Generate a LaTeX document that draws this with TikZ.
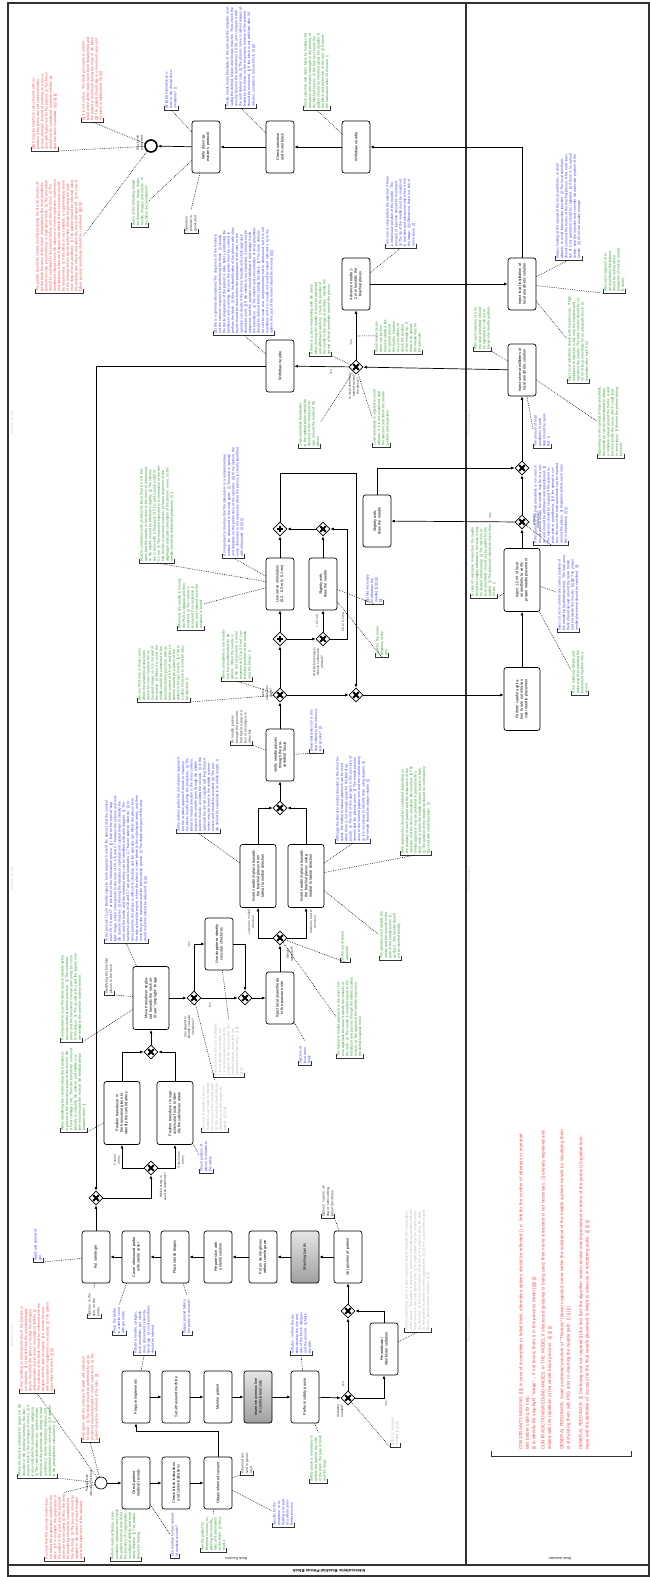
\documentclass[tikz,border=0pt]{standalone}
\usepackage{fontspec}
\setmainfont{Liberation Sans}
\usetikzlibrary{arrows.meta,shapes.geometric,calc}
\definecolor{annred}{RGB}{255,70,70}
\definecolor{annblue}{RGB}{60,60,255}
\definecolor{anngreen}{RGB}{40,160,40}
\definecolor{anngray}{RGB}{185,185,185}
\definecolor{annblack}{RGB}{60,60,60}
\definecolor{framegray}{RGB}{50,50,50}
\newcommand\nodefont{\fontsize{3.8}{4.5}\selectfont}
\newcommand\annfont{\fontsize{3.5}{4.3}\selectfont}
\newcommand\lblfont{\fontsize{3.3}{3.9}\selectfont}
\tikzset{
  task/.style={draw, line width=0.7pt, rounded corners=2.5pt, rotate=90, align=center, font=\nodefont, inner sep=1pt, minimum width=52, minimum height=28, text width=46, fill=white},
  bigtask/.style={task, minimum width=63, minimum height=36, text width=56},
  graytask/.style={task, top color=gray!20, bottom color=gray!75},
  gwx/.style={draw, shape=diamond, minimum size=14, inner sep=0, line width=0.7pt, fill=white,
    path picture={\draw[line width=1.8pt] ([shift={(-2.8pt,-2.8pt)}]path picture bounding box.center) -- ([shift={(2.8pt,2.8pt)}]path picture bounding box.center) ([shift={(-2.8pt,2.8pt)}]path picture bounding box.center) -- ([shift={(2.8pt,-2.8pt)}]path picture bounding box.center);}},
  gwp/.style={draw, shape=diamond, minimum size=14, inner sep=0, line width=0.7pt, fill=white,
    path picture={\draw[line width=1.1pt] ([xshift=-3.2pt]path picture bounding box.center) -- ([xshift=3.2pt]path picture bounding box.center) ([yshift=-3.2pt]path picture bounding box.center) -- ([yshift=3.2pt]path picture bounding box.center);}},
  startev/.style={draw, circle, minimum size=12, inner sep=0, line width=0.7pt, fill=white},
  endev/.style={draw, circle, minimum size=12, inner sep=0, line width=1.6pt, fill=white},
  flow/.style={-{Latex[length=3.6pt,width=3pt]}, line width=0.7pt},
  assoc/.style={line width=0.55pt, dash pattern=on 0.7pt off 1.1pt},
  ann/.style={rotate=90, anchor=north west, align=left, font=\annfont, inner sep=1pt},
  bracket/.style={line width=0.9pt, draw=framegray},
  gl/.style={rotate=90, font=\lblfont, align=center, inner sep=0.5pt, text=black!80},
  fl/.style={rotate=90, font=\lblfont, align=center, inner sep=0.5pt, text=black!70},
  frame/.style={line width=1.1pt, draw=framegray},
  faint/.style={rotate=90, font=\lblfont, text=gray!35}
}
\newcommand\ann[6]{%
  \node[ann, text=#5, text width=#4] (#1) at (#2,#3) {#6};
  \draw[bracket] ([yshift=4pt]#1.north west) -- (#1.north west) -- (#1.south west) -- ([yshift=4pt]#1.south west);
}
\begin{document}
\begin{tikzpicture}[x=1pt, y=-1pt]
\fill[white] (0,0) rectangle (650,1577);
\useasboundingbox (0,0) rectangle (650,1577);
% pool and lanes
\draw[frame] (8,3) rectangle (649,1576);
\draw[frame, line width=1.4pt] (8,1565) -- (649,1565);
\draw[frame] (466,3) -- (466,1565);
\node[rotate=180, font=\bfseries\fontsize{4.3}{5}\selectfont] (title) at (329,1571) {Interscalenic Brachial Plexus Block};
\node[rotate=180, font=\lblfont] (lane1) at (236,1559) {Block Executor};
\node[rotate=180, font=\lblfont] (lane2) at (560,1559) {Block Assistant};
\node[faint] (f11) at (12,422) {Block Executor};
\node[faint] (f12) at (12,878) {Block Executor};
\node[faint] (f13) at (12,1335) {Block Executor};
\node[faint] (f21) at (469,422) {Block Assistant};
\node[faint] (f22) at (469,878) {Block Assistant};
\node[faint] (f23) at (469,1330) {Block Assistant};

% events, tasks, gateways
\node[startev] (E0) at (101,1483) {};
\node[task] (T1) at (136,1483) {Check patient medical records};
\node[task] (T2) at (176,1483) {Check block indications and contraindications};
\node[task] (T3) at (218,1483) {Obtain informed consent};
\node[task] (T4) at (136,1397) {Prepare implements};
\node[task] (T5) at (176,1397) {Set ultrasound machine};
\node[task] (T6) at (218,1397) {Monitor patient};
\node[graytask] (T7) at (258,1397) {Insert intravenous line in contralateral side};
\node[task] (T8) at (305,1397) {Perform safety pause};
\node[gwx] (G1) at (348,1398) {};
\node[task] (T9) at (384,1349) {Premedicate /\\Administer sedation};
\node[gwx] (G2) at (348,1311) {};
\node[task] (T10) at (348,1257) {Set position of patient};
\node[graytask] (T11) at (305,1257) {Washing hands};
\node[task] (T12) at (263,1257) {Put on sterile gloves without sterile gown};
\node[task] (T13) at (218,1257) {Prepare skin with a sterile solution};
\node[task] (T14) at (175,1257) {Place sterile drapes};
\node[task] (T15) at (136,1257) {Cover ultrasound probe with sterile cover};
\node[task] (T16) at (96,1257) {Put sterile gel};
\node[gwx] (G3) at (96,1198) {};
\node[gwx] (G4) at (151,1168) {};
\node[bigtask] (T17) at (122,1113) {Position transducer in the transverse plane to identify the carotid artery};
\node[bigtask] (T18) at (175,1113) {Position transducer in supraclavicular fossa to identify the subclavian artery};
\node[gwx] (G5) at (151,1052) {};
\node[bigtask] (T19) at (151,998) {Move transducer cephalad towards the neck until see ``stop light'' image};
\node[gwx] (G6) at (194,998) {};
\node[task] (T20) at (219,944) {Use doppler to identify vascular structures};
\node[gwx] (G7) at (245,998) {};
\node[task] (T21) at (280,998) {Inject local anaesthesia in the puncture site};
\node[gwx] (G8) at (280,938) {};
\node[bigtask] (T22) at (258,876) {Insert needle in-plane towards the brachial plexus from lateral to medial direction};
\node[bigtask] (T23) at (306,876) {Insert needle in-plane towards the brachial plexus using medial to lateral direction};
\node[gwx] (G9) at (280,808) {};
\node[task] (T24) at (280,755) {Verify needle passes through the prevertebral fascia};
\node[gwx] (G10) at (280,695) {};
\node[gwx] (G11) at (356,695) {};
\node[gwp] (G12) at (280,639) {};
\node[gwx] (G13) at (323,639) {};
\node[task] (T25) at (280,584) {Use nerve stimulation (0.3 - 0.5 mA, 0.1 ms)};
\node[task] (T26) at (323,584) {Slightly withdraw the needle};
\node[gwp] (G14) at (280,529) {};
\node[gwx] (G15) at (323,529) {};
\node[task] (T27) at (377,521) {Slightly withdraw the needle};
\node[bigtask] (T28) at (522,699) {Perform careful aspiration to rule out intravascular needle placement};
\node[bigtask] (T29) at (522,580) {Inject 1-2 ml of local anaesthetic to verify proper needle placement};
\node[gwx] (G16) at (522,522) {};
\node[gwx] (G17) at (522,468) {};
\node[task] (T30) at (522,370) {Inject several milliliters of local anesthetic solution};
\node[gwx] (G18) at (356,367) {};
\node[task] (T31) at (280,366) {Withdraw needle};
\node[task] (T32) at (356,284) {Advance needle 1-2 mm towards the brachial plexus};
\node[task] (T33) at (522,284) {Inject local instillation of local anesthetic solution};
\node[task] (T34) at (356,147) {Withdraw needle};
\node[task] (T35) at (280,147) {Check sensitive and motor block};
\node[task] (T36) at (206,147) {Write down operation's protocol};
\node[endev] (E1) at (151,146) {};

% sequence flows
\coordinate (c3) at (218,1431);
\coordinate (c1) at (347,639);
\coordinate (c2) at (280,473);
\coordinate (f1) at (357,336);
\draw[flow] (E0) -- (T1);
\draw[flow] (T1) -- (T2);
\draw[flow] (T2) -- (T3);
\draw[flow] (T3) -- (c3) -| (T4);
\draw[flow] (T4) -- (T5);
\draw[flow] (T5) -- (T6);
\draw[flow] (T6) -- (T7);
\draw[flow] (T7) -- (T8);
\draw[flow] (T8) -- (G1);
\draw[flow] (G1) -- (G2);
\draw[flow] (G1) -| (T9);
\draw[flow] (T9) |- (G2);
\draw[flow] (G2) -- (T10);
\draw[flow] (T10) -- (T11);
\draw[flow] (T11) -- (T12);
\draw[flow] (T12) -- (T13);
\draw[flow] (T13) -- (T14);
\draw[flow] (T14) -- (T15);
\draw[flow] (T15) -- (T16);
\draw[flow] (T16) -- (G3);
\draw[flow] (G3) -| (G4);
\draw[flow] (G4) -| (T17);
\draw[flow] (G4) -| (T18);
\draw[flow] (T17) |- (G5);
\draw[flow] (T18) |- (G5);
\draw[flow] (G5) -- (T19);
\draw[flow] (T19) -- (G6);
\draw[flow] (G6) |- (T20);
\draw[flow] (G6) -- (G7);
\draw[flow] (T20) -| (G7);
\draw[flow] (G7) -- (T21);
\draw[flow] (T21) -- (G8);
\draw[flow] (G8) -| (T22);
\draw[flow] (G8) -| (T23);
\draw[flow] (T22) |- (G9);
\draw[flow] (T23) |- (G9);
\draw[flow] (G9) -- (T24);
\draw[flow] (T24) -- (G10);
\draw[flow] (G10) -- (G12);
\draw[flow] (G10) -- (G11);
\draw[flow] (G12) -- (T25);
\draw[flow] (G12) -- (G13);
\draw[flow] (G13) -- (T26);
\draw[flow] (G13) -- (c1) |- (G15);
\draw[flow] (T26) -- (G15);
\draw[flow] (G15) -- (G14);
\draw[flow] (T25) -- (G14);
\draw[flow] (G14) -- (c2) -| (G11);
\draw[flow] (G11) -- (G11 -| T28.north);
\draw[flow] (T28) -- (T29);
\draw[flow] (T29) -- (G16);
\draw[flow] (G16) -- (T27);
\draw[flow] (G16) -- (G17);
\draw[flow] (T27) |- (G17);
\draw[flow] (G17) -- (T30);
\draw[flow] (T30) -- (G18);
\draw[flow] (G18) -- (T31);
\draw[flow] (T31) -| (G3);
\draw[flow] (G18) -- (T32);
\draw[flow] (T32) -- (T33);
\draw[flow] (T33) |- (T34);
\draw[flow] (T34) -- (T35);
\draw[flow] (T35) -- (T36);
\draw[flow] (T36) -- (E1);

% gateway and flow labels
\node[gl] (lE0) at (89,1483) {Patient with\\indication for block};
\node[gl] (lE1) at (140,143) {Block well\\performed};
\node[gl] (lG1) at (340,1411) {Sedation\\needed?};
\node[fl] (n1) at (343,1384) {No};
\node[fl] (y1) at (386,1404) {Yes};
\node[gl] (lG4) at (163,1187) {Which artery is\\used as landmark?};
\node[fl] (a1) at (117,1160) {Carotid\\artery};
\node[fl] (a2) at (181,1160) {Subclavian\\artery};
\node[gl] (lG6) at (189,1027) {Use doppler to\\identify vascular\\structures?};
\node[fl] (y2) at (189,945) {Yes};
\node[fl] (n2) at (210,1005) {No};
\node[gl] (lG8) at (290,954) {Which\\approach?};
\node[fl] (d1) at (251,922) {Lateral to medial\\direction};
\node[fl] (d2) at (313,922) {Medial to lateral\\direction};
\node[gl] (lG10) at (267,693) {Nerve\\stimulator\\used?};
\node[gl] (lG13) at (318,662) {At which intensity is\\muscle contraction\\elicited?};
\node[fl] (i1) at (317,621) {< 0.3 mA};
\node[fl] (i2) at (343,622) {0.3 to 0.5 mA};
\node[gl] (lG16) at (536,520) {Is there\\resistance?};
\node[fl] (y3) at (490,516) {Yes};
\node[gl] (lG18) at (354,386) {Is local anesthetic\\spread around\\the plexus?};
\node[fl] (y4) at (351,343) {Yes};
\node[fl] (n4) at (331,372) {No};

% annotations
\ann{A1}{31}{151}{78}{annred}{|||||| It may be helpful to call someone with experience if the block was not successful after several attempts, instead of insisting on a procedure with higher risk for the patient. ||| The block should not be considered complete until the patient has been evaluated. |||||| |||| ||||}
\ann{A2}{81}{122}{87}{annred}{|||| It is not correct. The block procedure is only finished when all the steps have been documented and the patient is monitored during the onset of the block. ||||| The patient should stay in a monitored area until the block is established. |||| |||||}
\ann{A3}{164}{110}{43}{annblue}{|||| |||| |||| Operative protocol or the clinical documentation? ||}
\ann{A4}{225}{108}{101}{annblue}{Firstly, check motor blockade of the arm and the shoulder, evaluating the deltoid, biceps and triceps muscles. Then check the sensory block in the dermatomes C5-C6, and compare it with the contralateral side. ||| The phrenic nerve is almost always affected by this block, so the respiratory function of the patient should be monitored. ||| If the block is not sufficient after 30 minutes, consider a rescue block. ||| ||||}
\ann{A5}{303}{110}{78}{anngreen}{Check sensitive and motor block by testing cold sensation and muscle strength in the territory of the blocked nerves. In the few next hours the patient should be informed about the duration of the block and protection of the arm. ||| Repeat the evaluation after 20 minutes. ||}
\ann{A6}{35}{293}{113}{annred}{The patient should be closely monitored during the first 30 minutes after the block because of the risk of complications like local anesthetic systemic toxicity, pneumothorax or high spinal block. ||| The procedure should be explained to the patient before and after the block. ||| The anesthetist should check the absence of Horner syndrome, hoarseness and dyspnea, which are frequent side effects of this block and should be documented. ||| If the block is not complete, a supplementary block of the missing nerves can be performed, always respecting the maximum dose of local anesthetic. ||| The patient should be informed about the possible side effects and when the block will wear off. ||| In case of failure, general anesthesia should be considered. |||||| ||||}
\ann{A7}{131}{227}{50}{anngreen}{Some of the following should be documented: drugs, doses, needle, images and events. In the block documentation?}
\ann{A8}{184}{233}{21}{annblack}{Operation protocol is generated}
\ann{A9}{213}{335}{107}{annblue}{|||| (this is a general observation) The sequence of the model is not the common sequence for performing the block. ||| Usually, the sterile preparation of the patient is done before positioning the transducer and scanning, because the probe must be covered to perform the block. ||| Also, the identification of the plexus with ultrasound should be done before the preparation of the skin, so the operator can decide if the block is feasible and which approach should be used. ||| If the needle is not visualized, it should not be advanced, and the operator should withdraw it and realign it with the transducer. ||| The volume and concentration of local anesthetic should be defined before starting the block. ||| The nerve stimulator can be used as a complementary tool to ultrasound, but it is not mandatory and it is usually not used by expert operators. ||| In my opinion this part of the model should be revised. ||||||}
\ann{A10}{385}{248}{71}{annblue}{I am sure to stop before the injection if there is intraneural position of the needle. The pressure of injection should be monitored. ||| The tip of the needle must be visualized in real time and advanced only when it is in the image. ||||| Otherwise, there is a risk of nerve injury. |||}
\ann{A11}{555}{260}{107}{annblue}{Always looking at the spread of the local anesthetic, in small aliquots, to avoid intravascular injection. ||| The local anesthetic should surround the trunks of the brachial plexus. After each injection of 5 ml, aspiration should be repeated. ||| If there is no spread visible, stop the injection and consider intravascular position of the needle. |||| 20 ml are usually enough.}
\ann{A12}{603}{293}{45}{anngreen}{After each injection of local anesthetic, the patient should be asked about symptoms of toxicity (metallic taste).}
\ann{A13}{309}{356}{78}{anngreen}{If there is a close relationship with the artery when moving the needle, it must be advanced and withdrawn carefully. Check the position of the needle in the image at all times. Identify the spread of local anesthetic around the plexus.}
\ann{A14}{374}{354}{34}{anngreen}{Small needle tip position can be fine tuned to obtain a better spread around the trunks. Injection of 1-2 ml allows to check the position of the needle tip. If there is no spread, the needle may be intravascular.}
\ann{A16}{298}{448}{50}{anngreen}{Local anesthetic distribution in the optimal plane should be checked in the ultrasound image, around the trunks of the plexus.}
\ann{A17}{372}{447}{57}{anngreen}{Local anesthetic is injected in small aliquots. If it is not visualized, stop the injection and check the needle position and aspiration.}
\ann{A19}{473}{351}{44}{anngreen}{After each injection of 5 ml the local anesthetic should be aspirated to rule out intravascular needle position.}
\ann{A20}{567}{383}{86}{anngreen}{Inject local anesthetic slowly with low pressure. If high resistance to injection is felt, stop the injection and reposition the needle. The total volume should be 15-20 ml of local anesthetic for an adequate block. ||| Aspiration after each 5 ml.}
\ann{A21}{597}{458}{71}{anngreen}{Depending on the spread of local anesthetic, the needle tip can be repositioned to obtain a complete spread around the trunks. Avoid injection inside the nerve, which could lead to nerve injury. ||| Monitor the patient during injection.}
\ann{A22}{533}{448}{36}{annblue}{The amount of local anesthetic in each step should be specified. ||}
\ann{A23}{139}{563}{98}{anngreen}{Muscle contraction with an intensity lower than 0.3 mA indicates that the needle is too close to the nerve or intraneural, so the needle should be withdrawn slightly. ||| The stimulation is done with a frequency of 2 Hz and a pulse width of 0.1 ms. ||| The response expected is a contraction of the deltoid, biceps or pectoral muscles. ||| Motor response of the diaphragm indicates stimulation of the phrenic nerve, so the needle should be redirected posteriorly. ||| ||}
\ann{A24}{222}{558}{111}{annblue}{It is important to mention that the stimulation is a complementary method, the ultrasound is the main guide. ||| This step is optional and depends on the preference of the operator. |||| In my opinion, the nerve stimulator is not necessary when the plexus is clearly identified with ultrasound. ||| |||| |||}
\ann{A25}{533}{545}{82}{annblue}{If the spread of the local anesthetic is not seen in the ultrasound image, the needle may be in a vessel and should be withdrawn and repositioned. ||| The injection should be stopped if the patient reports pain or paresthesia. ||| If the spread is correct, the rest of the local anesthetic can be injected around the plexus. ||| Aspiration before each injection is mandatory. ||| |||}
\ann{A26}{470}{598}{73}{anngreen}{In case of resistance to injection, the needle should be slightly withdrawn, because it may be located intraneurally. ||| The injection of local anesthetic should not be painful for the patient. ||| The pressure should be lower than 15 psi. ||}
\ann{A27}{177}{630}{50}{anngreen}{Whenever the needle is moved, the PNS is stopped and then restarted. ||| The current is increased if no response is seen, and reduced once the response is found.}
\ann{A28}{365}{604}{31}{annblue}{|||| (Not necessary to withdraw the needle) ||| |||| |||| ||||}
\ann{A29}{375}{657}{30}{anngreen}{Look for the motor response of the arm.}
\ann{A30}{137}{702}{57}{anngreen}{We use PNS only in those cases where the anatomical structures cannot be seen clearly in the ultrasound image, so it is not part of the routine. ||| When it is used, the needle should be connected to the stimulator before puncture, with an initial current of 0.5 mA, and the response should be a twitch of the deltoid or biceps muscle. ||| This is a safety measure to avoid intraneural injection. ||}
\ann{A31}{221}{681}{51}{anngreen}{Nerve stimulation is not mandatory but recommended for beginners. When the needle is in the correct position, a motor response at 0.3 to 0.5 mA confirms the position of the needle near the plexus. ||}
\ann{A32}{230}{745}{35}{annblack}{As needle passes through the prevertebral fascia a pop or a loss of resistance is often felt}
\ann{A33}{309}{753}{48}{annblue}{prevertebral fascia? Is this step related to the interscalene groove? |||}
\ann{A34}{557}{632}{77}{annblue}{Inject 1-2 ml to confirm the correct position of the needle tip (hydrodissection). The local anesthetic should spread around the nerve trunks and not inside the muscle. |||| ||||| The proper needle placement should be specified. ||||}
\ann{A35}{571}{695}{48}{anngreen}{It is a relatively simple and quick way of preventing the inadvertent injection into a vessel.}
\ann{B1}{104}{943}{148}{annblue}{In the process I try to identify superior trunk (superior trunk of the plexus) and the cervical roots C5, C6 and C7 at the level of the interscalene groove. ||| I look for the typical ``stop light'' image, which corresponds to the roots of C5, C6 and C7 between the anterior and middle scalene muscles. ||| Moving the transducer cephalad and caudad helps to identify the roots and the trunks, and the vertebral artery can be identified with color doppler. ||| The transverse process of C6 and C7 are good landmarks: C7 has no anterior tubercle. ||| In some patients the plexus is difficult to visualize and the operator can follow the plexus from the supraclavicular region, where the plexus is seen lateral to the subclavian artery, and then move the probe cephalad until the interscalene groove. ||| The depth and gain of the ultrasound machine should be adjusted. ||| ||||}
\ann{B2}{176}{833}{75}{annblue}{Some authors prefer the out-of-plane approach, but the in-plane approach allows to visualize the whole needle during the procedure. ||| The lateral to medial direction is the most common, because the needle goes through the middle scalene muscle, avoiding the vessels. ||| In this approach the dorsal scapular and long thoracic nerves may be found in the middle scalene muscle and should be avoided. |||| The needle should be visualized in its whole length. ||}
\ann{B3}{335}{843}{86}{annblue}{Although the lateral to medial direction is the most frequent, the medial to lateral approach can be used when there is not enough space for the lateral approach. ||| The risk of this approach is the puncture of vessels and the phrenic nerve. ||| The needle passes close to the internal jugular vein and the carotid artery, so it is necessary to identify them using doppler. ||| The needle should be always visible. |||}
\ann{B4}{400}{855}{88}{anngreen}{Both approaches should be considered depending on the anatomy of each patient and the experience of the operator, and the choice should be documented. ||| The medial approach may be preferred in patients with a short neck or when the middle scalene muscle is thick. ||| The position of the needle tip should be continuously checked with small injections. |||}
\ann{B5}{379}{960}{48}{anngreen}{The operator must identify the nerves and the vessels in the path of the needle before inserting it. The needle should not be inserted blindly.}
\ann{B6}{340}{962}{34}{anngreen}{In the out of plane approach}
\ann{B7}{336}{1058}{80}{anngreen}{The lateral to medial approach is the most common approach because it avoids the vessels of the neck. ||| The needle is inserted lateral to the transducer and passes through the middle scalene muscle. In this approach the needle may cross the dorsal scapular nerve.}
\ann{B8}{298}{1065}{22}{annblue}{Injection of local anesthetic}
\ann{B9}{60}{1042}{87}{anngreen}{It is important to scan the whole area to identify all the vascular structures before puncture. ||| The vertebral artery and the transverse cervical artery may be close to the plexus. ||| The carotid artery and the jugular vein are medial to the anterior scalene muscle.}
\ann{B10}{104}{995}{42}{annblack}{Identifying the brachial plexus in the neck}
\ann{B11}{213}{1077}{55}{anngray}{A response to the use of doppler: it is not always necessary, but it is recommended to avoid the puncture of the vessels near the brachial plexus, especially the transverse cervical artery. ||| |||| |||| ||||}
\ann{B12}{201}{1132}{50}{anngray}{The use of doppler is recommended in all cases to identify the vessels in the needle path. ||| The operator should decide depending on the image obtained. ||| ||| ||||}
\ann{B13}{60}{1132}{84}{anngreen}{When identifying the carotid artery, the transducer is placed in the transverse plane at the level of the cricoid cartilage (C6). Then the transducer is moved laterally to visualize the anterior and middle scalene muscles and the roots of the brachial plexus between them. ||}
\ann{B14}{199}{1173}{34}{annblue}{Check position of plexus in relation to the artery}
\ann{C15}{33}{1262}{32}{annblue}{Apply and spread of gel}
\ann{C16}{87}{1318}{28}{annblack}{Options: in the skin, on the probe}
\ann{C17}{112}{1335}{28}{annblue}{Place the probe in a sterile cover with gel inside}
\ann{C18}{182}{1335}{37}{annblue}{Drapes placed before the probe is covered?}
\ann{C19}{133}{1355}{48}{annblue}{Include a needle, syringes, local anesthetic, gel, sterile cover, gloves and resuscitation drugs. ||| Local anesthetic should be labeled.}
\ann{C20}{290}{1355}{42}{annblue}{Includes: confirm the patient identity, the site and side of the block, allergies and the consent. ||| Mark the side.}
\ann{C21}{321}{1218}{33}{annblack}{Options: supine, sitting or semi-sitting, lateral decubitus}
\ann{C22}{404}{1332}{122}{anngray}{Patient positioning: this is a very important step to facilitate the visualization of the plexus. The patient is placed in supine or semi-sitting position with the head turned to the contralateral side. ||| A small pillow may be placed under the shoulder. ||| For the interscalene block the arm is placed along the body. ||| The position is similar for other approaches. |||| ||| It is a good idea to position the patient before sedation. ||| |||}
\ann{C23}{390}{1447}{39}{anngray}{||| ||| || Is sedation needed ||| ||| ||||}
\ann{C24}{309}{1483}{48}{anngreen}{Safety pause is mandatory to confirm the patient, the side of the block, the type of block and the drugs.}
\ann{C25}{19}{1393}{90}{annred}{In that ``avoiding an intravascular block'' the process is not complete. ||| In the first step the anesthesiologist should check that the patient is fasting, the allergies, anticoagulation and previous neurological deficits. ||| The indication of the block should be confirmed with the surgeon and the type of surgery. ||| A monitored area with resuscitation equipment is necessary. ||| The patient may refuse the block. ||| ||||}
\ann{C26}{81}{1442}{88}{annred}{Block agree with the sentence ``Patient with indication for block''. ||| The block should be performed by an experienced anesthesiologist or under supervision. ||| The patient should be informed of the risks. ||||}
\ann{C27}{17}{1478}{75}{anngreen}{Where the block is indicated for surgery of the shoulder or the proximal humerus, the interscalene block is the technique of choice. ||| It is also indicated for postoperative analgesia. ||| The contraindications are: patient refusal, infection at the puncture site, allergy to local anesthetics, severe respiratory disease and contralateral phrenic nerve palsy. ||| Evaluate in the preanesthetic consultation. ||}
\ann{C28}{44}{1561}{66}{annred}{It is clear that this process model does not reflect the preparation needed for the block. ||| For example, the preparation of the patient in the ward and the premedication are not included. ||| Also, the need for monitoring should be considered before the block. ||| The process should be adapted to the practice of each hospital and to the experience of the operator.}
\ann{C29}{110}{1561}{51}{anngreen}{Perform medical history, a pre-anesthetic evaluation and check the patient medical records for the presence of coagulopathy, neurological deficits and respiratory disease. ||| The patient should be fasting.}
\ann{C30}{170}{1558}{45}{annblue}{Use medical history instead of medical records?}
\ann{C31}{200}{1552}{35}{anngreen}{Ask the patient for informed consent, explaining the benefits, risks and alternatives of the block. ||| Document it.}
\ann{C32}{272}{1527}{30}{annblue}{Specific for the procedure or including it as part of a whole anesthesia process}
\ann{C33}{240}{1475}{22}{annblack}{Informed consent is generated}

% lane 2 global remarks
\node[rotate=90, anchor=north west, align=left, text=annred, font=\fontsize{4.5}{6.4}\selectfont, text width=322, inner sep=0] (D) at (519,1450) {CONSTRAINTS MISSING: ||||| In case of incomplete or failed block, alternative options should be reflected | i.e. limit for the number of attempts or repeated fails before calling for help.\\
||| to identify the stop-light ``image''... if not found, that's it in this process model |||||| |||\\[3pt]
CONTRADICTIONS/REDUNDANCIES: In THE MODEL if ultrasound guidance is being used, then nerve stimulator is not necessary. ||| already explained and related with the repetition of the whole block process. ||| ||| |||\\[6pt]
GENERAL FEEDBACK: Avoid accidental puncture of ``Thoracic'' (dorsal scapular) nerve within the substance of the middle scalene muscle by visualizing them or stimulating them with PNS prior to inserting the needle path. ||| ||| |||\\[6pt]
GENERAL FEEDBACK: ||| Confusing and not required ||| the fact that the algorithm needs revision and improvement in terms of the purely US-guided technique and the definition of success for the final needle placement is linked to advance in reordering tasks. ||| ||| |||};
\draw[bracket] (491,1451) -- (491,1456) -- (631,1456) -- (631,1451);

% associations
\draw[assoc] (E1) -- (A1.south west);
\draw[assoc] (E1) -- (A2.west);
\draw[assoc] (T36) -- (A3.west);
\draw[assoc] (T35) -- (A4.west);
\draw[assoc] (T34) -- (A5.west);
\draw[assoc] (E1) -- (A6.south);
\draw[assoc] (T36) -- (A7.south);
\draw[assoc] (T36) -- (A8.east);
\draw[assoc] (T31) -- (A9.west);
\draw[assoc] (T32) -- (A10.west);
\draw[assoc] (T33) -- (A11.west);
\draw[assoc] (T33) -- (A12.north west);
\draw[assoc] (G18) -- (A13.south west);
\draw[assoc] (f1) -- (A14.north);
\draw[assoc] (G18) -- (A16.south);
\draw[assoc] (G18) -- (A17.north);
\draw[assoc] (T30) -- (A19.south west);
\draw[assoc] (T33) -- (A20.north);
\draw[assoc] (T30) -- (A21.north);
\draw[assoc] (T30) -- (A22.north);
\draw[assoc] (T25) -- (A23.west);
\draw[assoc] (T25) -- (A24.west);
\draw[assoc] (G16) -- (A25.west);
\draw[assoc] (T29) -- (A26.south west);
\draw[assoc] (T25) -- (A27.south);
\draw[assoc] (T26) -- (A28.west);
\draw[assoc] (T26) -- (A29.west);
\draw[assoc] (G10) -- (A30.south west);
\draw[assoc] (G10) -- (A31.west);
\draw[assoc] (T24) -- (A32.south west);
\draw[assoc] (T24) -- (A33.west);
\draw[assoc] (T29) -- (A34.north);
\draw[assoc] (T29) -- (A35.north);
\draw[assoc] (T19) -- (B1.west);
\draw[assoc] (T22) -- (B2.west);
\draw[assoc] (T23) -- (B3.west);
\draw[assoc] (T23) -- (B4.west);
\draw[assoc] (T23) -- (B5.north);
\draw[assoc] (G8) -- (B6.west);
\draw[assoc] (G8) -- (B7.north);
\draw[assoc] (T21) -- (B8.east);
\draw[assoc] (T19) -- (B9.south west);
\draw[assoc] (T19) -- (B10.south west);
\draw[assoc] (T20) -- (B11.east);
\draw[assoc] (G6) -- (B12.east);
\draw[assoc] (T17) -- (B13.south west);
\draw[assoc] (T18) -- (B14.north);
\draw[assoc] (T16) -- (C15.south west);
\draw[assoc] (T16) -- (C16.east);
\draw[assoc] (T15) -- (C17.east);
\draw[assoc] (T14) -- (C18.east);
\draw[assoc] (T4) -- (C19.west);
\draw[assoc] (T8) -- (C20.west);
\draw[assoc] (T10) -- (C21.south west);
\draw[assoc] (T9) -- (C22.west);
\draw[assoc] (G1) -- (C23.north west);
\draw[assoc] (T8) -- (C24.east);
\draw[assoc] (E0) -- (C25.west);
\draw[assoc] (E0) -- (C26.west);
\draw[assoc] (E0) -- (C27.south west);
\draw[assoc] (E0) -- (C28.east);
\draw[assoc] (T1) -- (C29.east);
\draw[assoc] (T1) -- (C30.north);
\draw[assoc] (T3) -- (C31.east);
\draw[assoc] (T3) -- (C32.north);
\draw[assoc] (T3) -- (C33.north west);
\end{tikzpicture}
\end{document}
